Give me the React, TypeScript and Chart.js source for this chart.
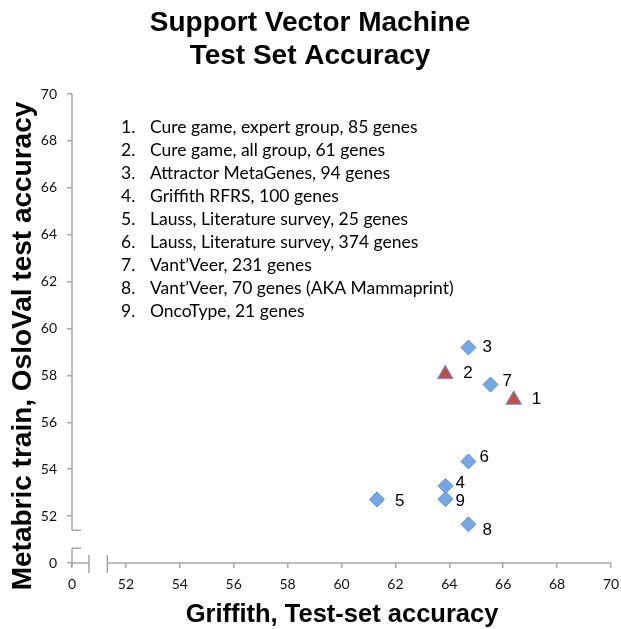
import { useEffect, useRef } from 'react';
import { Chart, registerables } from 'chart.js';

Chart.register(...registerables);

// ---- data ----
const pointNumbers = ['1', '2', '3', '4', '5', '6', '7', '8', '9'];
const griffithAccuracy = [66.39, 63.85, 64.71, 63.86, 61.32, 64.71, 65.53, 64.71, 63.86];
const osloValAccuracy = [56.96, 58.05, 59.19, 53.29, 52.71, 54.33, 57.61, 51.65, 52.72];
const cureGamePoints = [0, 1]; // drawn as triangles
const otherPoints = [2, 3, 4, 5, 6, 7, 8];

const legendLines = [
  'Cure game, expert group, 85 genes',
  'Cure game, all group, 61 genes',
  'Attractor MetaGenes, 94 genes',
  'Griffith RFRS, 100 genes',
  'Lauss, Literature survey, 25 genes',
  'Lauss, Literature survey, 374 genes',
  'Vant\u2019Veer, 231 genes',
  'Vant\u2019Veer, 70 genes (AKA Mammaprint)',
  'OncoType, 21 genes',
];

// axis: the value 50 stands for the broken-off 0
const tickValues = [50, 52, 54, 56, 58, 60, 62, 64, 66, 68, 70];
const tickLabels = ['0', '52', '54', '56', '58', '60', '62', '64', '66', '68', '70'];
const axisMin = 50;
const axisMax = 70;
const xBreak = [50.63, 51.31];
const yBreak = [50.63, 51.4];

// label offsets (px) for point numbers
const labelDx = [18, 18, 14, 10, 18, 11, 12, 14, 10];
const labelDy = [0, -1, 0, -3, 2, -4, -3, 6, 2];

const chartTitle = ['Support Vector Machine', 'Test Set Accuracy'];
const xTitle = 'Griffith, Test-set accuracy';
const yTitle = 'Metabric train, OsloVal test accuracy';

const AXIS = '#a6a6a6';

const decorPlugin = {
  id: 'decor',
  beforeDatasetsDraw(chart: any) {
    const ctx = chart.ctx;
    const xs = chart.scales.x;
    const ys = chart.scales.y;
    const x0 = xs.getPixelForValue(axisMin);
    const x1 = xs.getPixelForValue(axisMax);
    const y0 = ys.getPixelForValue(axisMin);
    const y1 = ys.getPixelForValue(axisMax);
    ctx.save();
    ctx.strokeStyle = AXIS;
    ctx.lineWidth = 1.5;
    ctx.beginPath();
    // y axis with break
    const yb0 = ys.getPixelForValue(yBreak[0]);
    const yb1 = ys.getPixelForValue(yBreak[1]);
    ctx.moveTo(x0, y1);
    ctx.lineTo(x0, yb1);
    ctx.moveTo(x0, yb0);
    ctx.lineTo(x0, y0 + 4);
    ctx.moveTo(x0, yb1);
    ctx.lineTo(x0 + 9, yb1);
    ctx.moveTo(x0, yb0);
    ctx.lineTo(x0 + 9, yb0);
    // x axis with break
    const xb0 = xs.getPixelForValue(xBreak[0]);
    const xb1 = xs.getPixelForValue(xBreak[1]);
    ctx.moveTo(x0, y0);
    ctx.lineTo(xb0, y0);
    ctx.moveTo(xb1, y0);
    ctx.lineTo(x1, y0);
    ctx.moveTo(xb0, y0 - 8);
    ctx.lineTo(xb0, y0 + 10);
    ctx.moveTo(xb1, y0 - 8);
    ctx.lineTo(xb1, y0 + 10);
    ctx.stroke();
    ctx.restore();
  },
  afterDatasetsDraw(chart: any) {
    const ctx = chart.ctx;
    ctx.save();
    ctx.fillStyle = '#000';
    // titles
    ctx.font = 'bold 28px "Liberation Sans", Arial, sans-serif';
    ctx.textAlign = 'center';
    ctx.textBaseline = 'alphabetic';
    ctx.fillText(chartTitle[0], 310, 31);
    ctx.fillText(chartTitle[1], 310, 64);
    ctx.font = 'bold 25.5px "Liberation Sans", Arial, sans-serif';
    ctx.fillText(xTitle, 342, 622);
    ctx.save();
    ctx.translate(31, 346);
    ctx.rotate(-Math.PI / 2);
    ctx.font = 'bold 28px "Liberation Sans", Arial, sans-serif';
    ctx.fillText(yTitle, 0, 0);
    ctx.restore();

    // numbered list
    ctx.font = '17.5px Lato, "Open Sans", sans-serif';
    ctx.textAlign = 'left';
    ctx.textBaseline = 'middle';
    legendLines.forEach((line, i) => {
      const y = 127 + i * 23.1;
      ctx.fillText(`${i + 1}.`, 121, y);
      ctx.fillText(line, 150, y);
    });

    // point number labels
    ctx.font = '17px "Liberation Sans", Arial, sans-serif';
    const xs = chart.scales.x;
    const ys = chart.scales.y;
    pointNumbers.forEach((label, i) => {
      const px = xs.getPixelForValue(griffithAccuracy[i]);
      const py = ys.getPixelForValue(osloValAccuracy[i]);
      ctx.fillText(label, px + labelDx[i], py + labelDy[i]);
    });
    ctx.restore();
  },
};

function scaleOpts(axis: 'x' | 'y') {
  return {
    type: 'linear' as const,
    min: axisMin,
    max: axisMax,
    afterBuildTicks(scale: any) {
      scale.ticks = tickValues.map((v) => ({ value: v }));
    },
    afterFit(scale: any) {
      if (axis === 'y') {
        scale.width = 72;
        scale.paddingTop = 0;
        scale.paddingBottom = 0;
      } else {
        scale.height = 66;
        scale.paddingLeft = 0;
        scale.paddingRight = 0;
      }
    },
    grid: {
      display: true,
      drawOnChartArea: false,
      drawTicks: true,
      tickLength: 5,
      color: AXIS,
      lineWidth: 1.5,
    },
    border: { display: false },
    ticks: {
      autoSkip: false,
      maxRotation: 0,
      padding: axis === 'y' ? 10 : 8,
      color: '#111',
      font: { family: 'Lato, "Open Sans", sans-serif', size: 14 },
      callback: (v: number) => {
        const idx = tickValues.indexOf(v);
        return idx >= 0 ? tickLabels[idx] : '';
      },
    },
  };
}

export default function App() {
  const ref = useRef<HTMLCanvasElement>(null);
  useEffect(() => {
    if (!ref.current) return;
    const chart = new Chart(ref.current, {
      type: 'scatter',
      data: {
        datasets: [
          {
            label: 'Cure game',
            data: cureGamePoints.map((i) => ({ x: griffithAccuracy[i], y: osloValAccuracy[i] })),
            pointStyle: 'triangle',
            pointRadius: 9,
            backgroundColor: '#c0504d',
            borderColor: '#7b93c4',
            borderWidth: 1,
          },
          {
            label: 'Other gene sets',
            data: otherPoints.map((i) => ({ x: griffithAccuracy[i], y: osloValAccuracy[i] })),
            pointStyle: 'rectRot',
            pointRadius: 7.5,
            backgroundColor: '#74a7e3',
            borderColor: '#5b8fd1',
            borderWidth: 1,
          },
        ],
      },
      options: {
        responsive: false,
        animation: false,
        layout: { padding: { top: 94, right: 7, bottom: 0, left: 0 } },
        plugins: {
          legend: { display: false },
          tooltip: { enabled: false },
          title: { display: false },
        },
        scales: {
          x: scaleOpts('x'),
          y: scaleOpts('y'),
        },
      },
      plugins: [decorPlugin],
    });
    return () => chart.destroy();
  }, []);
  return (
    <div style={{ position: 'absolute', left: 0, top: 0, width: 621, height: 629, background: '#fff' }}>
      <canvas ref={ref} width={621} height={629} style={{ display: 'block' }} />
    </div>
  );
}
